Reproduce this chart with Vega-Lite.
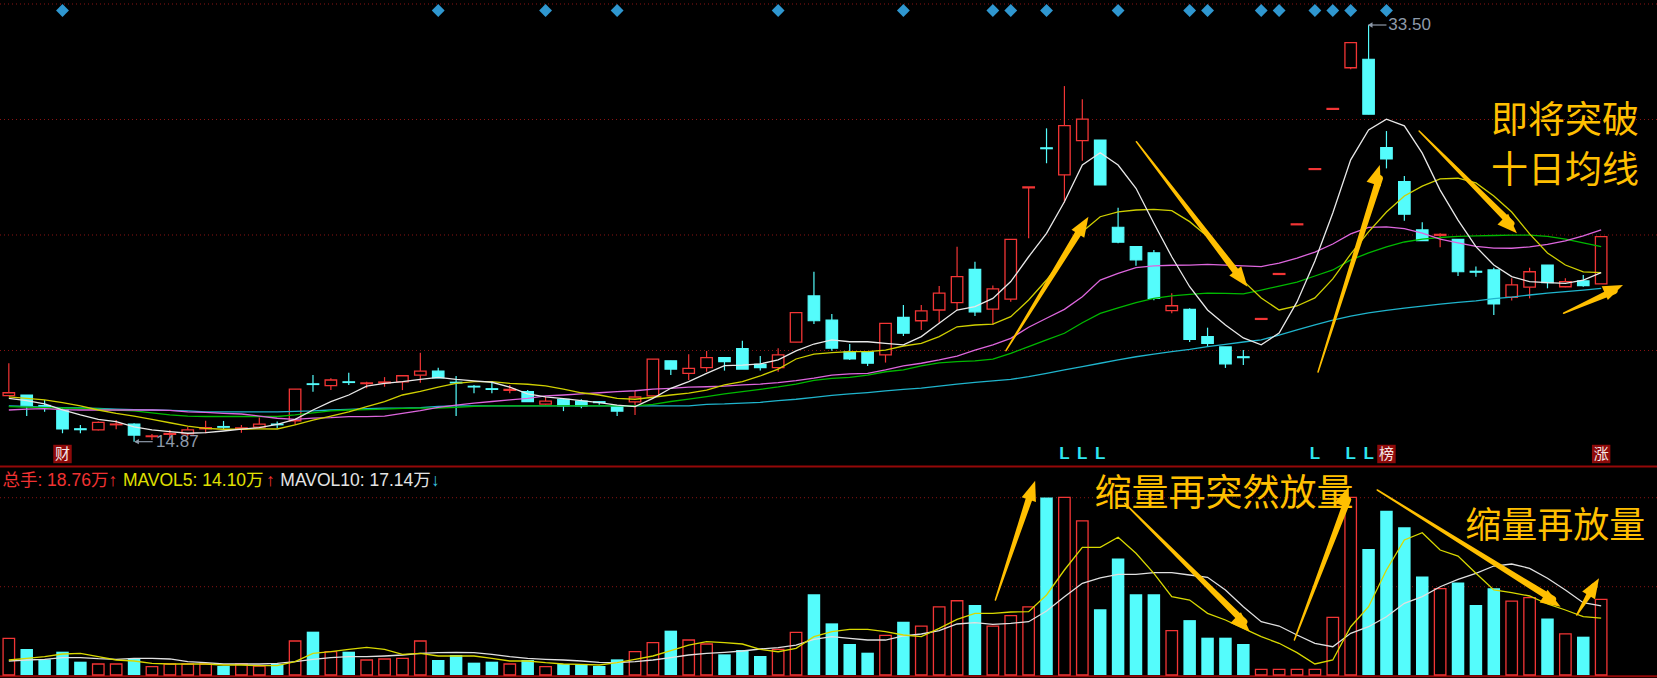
{
"$schema": "https://vega.github.io/schema/vega-lite/v6.json",
"width": 1657, "height": 678, "autosize": "none", "padding": 0,
"background": "#000000",
"config": {"view": {"stroke": null}, "axis": {"disable": true}, "legend": {"disable": true}},
"datasets": {"k": [
{"i":1,"o":16.93,"h":18.38,"l":16.92,"c":17.06,"v":9.09,"m5":16.81,"m10":16.88,"m20":16.29,"m30":16.44,"m60":16.47,"mv5":3.72,"mv10":3.47},
{"i":2,"o":16.96,"h":16.96,"l":16.02,"c":16.44,"v":6.44,"m5":16.71,"m10":16.81,"m20":16.33,"m30":16.42,"m60":16.45,"mv5":4.14,"mv10":3.72},
{"i":3,"o":16.49,"h":16.74,"l":16.21,"c":16.45,"v":3.88,"m5":16.56,"m10":16.74,"m20":16.35,"m30":16.40,"m60":16.42,"mv5":4.54,"mv10":3.89},
{"i":4,"o":16.29,"h":16.37,"l":15.25,"c":15.44,"v":5.78,"m5":16.29,"m10":16.62,"m20":16.31,"m30":16.38,"m60":16.40,"mv5":5.20,"mv10":4.29,"s":1,"tag":"财"},
{"i":5,"o":15.45,"h":15.62,"l":15.25,"c":15.41,"v":3.30,"m5":16.07,"m10":16.47,"m20":16.29,"m30":16.36,"m60":16.38,"mv5":5.38,"mv10":4.29},
{"i":6,"o":15.40,"h":15.78,"l":15.37,"c":15.74,"v":2.73,"m5":15.87,"m10":16.29,"m20":16.29,"m30":16.33,"m60":16.36,"mv5":4.54,"mv10":4.04},
{"i":7,"o":15.63,"h":15.84,"l":15.43,"c":15.66,"v":2.73,"m5":15.77,"m10":16.14,"m20":16.29,"m30":16.29,"m60":16.33,"mv5":3.72,"mv10":3.89},
{"i":8,"o":15.66,"h":15.70,"l":14.87,"c":15.17,"v":4.13,"m5":15.54,"m10":16.02,"m20":16.29,"m30":16.25,"m60":16.31,"mv5":3.47,"mv10":4.14},
{"i":9,"o":15.10,"h":15.22,"l":14.95,"c":15.13,"v":2.07,"m5":15.40,"m10":15.87,"m20":16.29,"m30":16.16,"m60":16.29,"mv5":2.90,"mv10":4.14},
{"i":10,"o":15.20,"h":15.40,"l":14.95,"c":15.24,"v":2.73,"m5":15.32,"m10":15.72,"m20":16.27,"m30":16.07,"m60":16.27,"mv5":2.73,"mv10":3.97},
{"i":11,"o":15.22,"h":15.53,"l":15.13,"c":15.40,"v":2.73,"m5":15.25,"m10":15.57,"m20":16.21,"m30":16.02,"m60":16.25,"mv5":2.73,"mv10":3.30},
{"i":12,"o":15.45,"h":15.81,"l":15.25,"c":15.50,"v":2.73,"m5":15.28,"m10":15.47,"m20":16.18,"m30":16.00,"m60":16.21,"mv5":2.73,"mv10":3.05},
{"i":13,"o":15.55,"h":15.80,"l":15.40,"c":15.52,"v":2.23,"m5":15.35,"m10":15.43,"m20":16.14,"m30":16.00,"m60":16.21,"mv5":2.48,"mv10":2.73},
{"i":14,"o":15.45,"h":15.62,"l":15.27,"c":15.49,"v":2.73,"m5":15.43,"m10":15.43,"m20":16.11,"m30":16.00,"m60":16.21,"mv5":2.48,"mv10":2.73},
{"i":15,"o":15.52,"h":15.95,"l":15.48,"c":15.66,"v":2.23,"m5":15.50,"m10":15.45,"m20":16.02,"m30":16.00,"m60":16.21,"mv5":2.30,"mv10":2.73},
{"i":16,"o":15.66,"h":15.77,"l":15.47,"c":15.63,"v":2.73,"m5":15.65,"m10":15.44,"m20":15.92,"m30":16.00,"m60":16.21,"mv5":2.30,"mv10":2.90},
{"i":17,"o":15.81,"h":17.22,"l":15.62,"c":17.22,"v":8.43,"m5":15.87,"m10":15.62,"m20":15.87,"m30":16.07,"m60":16.23,"mv5":3.30,"mv10":3.30},
{"i":18,"o":17.46,"h":17.85,"l":17.11,"c":17.43,"v":10.74,"m5":16.29,"m10":15.84,"m20":15.93,"m30":16.16,"m60":16.25,"mv5":5.38,"mv10":3.89},
{"i":19,"o":17.38,"h":17.71,"l":17.18,"c":17.63,"v":5.78,"m5":16.66,"m10":16.02,"m20":15.95,"m30":16.25,"m60":16.29,"mv5":5.77,"mv10":4.29},
{"i":20,"o":17.55,"h":17.96,"l":17.41,"c":17.52,"v":5.78,"m5":16.96,"m10":16.21,"m20":15.99,"m30":16.29,"m60":16.32,"mv5":6.37,"mv10":4.54},
{"i":21,"o":17.47,"h":17.55,"l":17.26,"c":17.50,"v":3.72,"m5":17.36,"m10":16.44,"m20":15.99,"m30":16.31,"m60":16.35,"mv5":6.86,"mv10":4.54},
{"i":22,"o":17.50,"h":17.76,"l":17.33,"c":17.54,"v":3.97,"m5":17.48,"m10":16.66,"m20":16.02,"m30":16.33,"m60":16.37,"mv5":6.37,"mv10":4.71},
{"i":23,"o":17.55,"h":17.85,"l":17.18,"c":17.82,"v":4.13,"m5":17.56,"m10":16.96,"m20":16.14,"m30":16.36,"m60":16.37,"mv5":5.13,"mv10":4.96},
{"i":24,"o":17.85,"h":18.85,"l":17.51,"c":18.03,"v":8.43,"m5":17.66,"m10":17.12,"m20":16.26,"m30":16.37,"m60":16.40,"mv5":5.38,"mv10":5.38},
{"i":25,"o":18.03,"h":18.18,"l":17.73,"c":17.73,"v":3.72,"m5":17.75,"m10":17.31,"m20":16.41,"m30":16.38,"m60":16.45,"mv5":4.71,"mv10":5.53,"s":1},
{"i":26,"o":17.53,"h":17.81,"l":16.02,"c":17.50,"v":4.96,"m5":17.66,"m10":17.48,"m20":16.51,"m30":16.41,"m60":16.47,"mv5":4.71,"mv10":5.63},
{"i":27,"o":17.35,"h":17.41,"l":17.04,"c":17.32,"v":3.06,"m5":17.59,"m10":17.56,"m20":16.60,"m30":16.45,"m60":16.47,"mv5":4.71,"mv10":5.53},
{"i":28,"o":17.24,"h":17.59,"l":17.04,"c":17.21,"v":3.30,"m5":17.53,"m10":17.56,"m20":16.67,"m30":16.47,"m60":16.47,"mv5":4.14,"mv10":5.13},
{"i":29,"o":17.17,"h":17.41,"l":17.04,"c":17.21,"v":2.73,"m5":17.31,"m10":17.48,"m20":16.74,"m30":16.47,"m60":16.47,"mv5":3.47,"mv10":4.54},
{"i":30,"o":17.11,"h":17.18,"l":16.66,"c":16.66,"v":3.72,"m5":17.01,"m10":17.44,"m20":16.81,"m30":16.47,"m60":16.47,"mv5":3.47,"mv10":4.14},
{"i":31,"o":16.55,"h":16.88,"l":16.53,"c":16.69,"v":2.07,"m5":16.88,"m10":17.37,"m20":16.92,"m30":16.47,"m60":16.47,"mv5":3.05,"mv10":3.89,"s":1},
{"i":32,"o":16.77,"h":16.80,"l":16.24,"c":16.47,"v":2.73,"m5":16.80,"m10":17.22,"m20":16.96,"m30":16.47,"m60":16.47,"mv5":2.73,"mv10":3.72},
{"i":33,"o":16.69,"h":16.77,"l":16.37,"c":16.47,"v":2.73,"m5":16.71,"m10":17.06,"m20":17.01,"m30":16.47,"m60":16.47,"mv5":2.65,"mv10":3.47},
{"i":34,"o":16.66,"h":16.69,"l":16.52,"c":16.62,"v":2.23,"m5":16.62,"m10":16.96,"m20":17.06,"m30":16.47,"m60":16.47,"mv5":2.48,"mv10":3.15},
{"i":35,"o":16.47,"h":16.47,"l":16.02,"c":16.24,"v":3.88,"m5":16.51,"m10":16.81,"m20":17.11,"m30":16.47,"m60":16.47,"mv5":3.05,"mv10":3.05,"s":1},
{"i":36,"o":16.65,"h":17.14,"l":16.07,"c":16.87,"v":5.78,"m5":16.44,"m10":16.77,"m20":17.15,"m30":16.47,"m60":16.47,"mv5":3.89,"mv10":3.30},
{"i":37,"o":16.92,"h":18.56,"l":16.92,"c":18.56,"v":8.00,"m5":16.81,"m10":16.86,"m20":17.22,"m30":16.54,"m60":16.47,"mv5":4.71,"mv10":3.72},
{"i":38,"o":18.49,"h":18.49,"l":17.85,"c":18.12,"v":10.99,"m5":17.26,"m10":16.96,"m20":17.26,"m30":16.67,"m60":16.47,"mv5":6.02,"mv10":4.29},
{"i":39,"o":17.93,"h":18.78,"l":17.63,"c":18.15,"v":8.67,"m5":17.56,"m10":17.04,"m20":17.31,"m30":16.78,"m60":16.47,"mv5":7.43,"mv10":4.96},
{"i":40,"o":18.18,"h":18.93,"l":18.00,"c":18.63,"v":7.68,"m5":17.93,"m10":17.18,"m20":17.33,"m30":16.89,"m60":16.54,"mv5":8.25,"mv10":5.38},
{"i":41,"o":18.63,"h":18.63,"l":18.05,"c":18.45,"v":5.12,"m5":18.27,"m10":17.41,"m20":17.36,"m30":17.01,"m60":16.56,"mv5":8.00,"mv10":5.63},
{"i":42,"o":19.03,"h":19.39,"l":18.12,"c":18.12,"v":6.20,"m5":18.30,"m10":17.56,"m20":17.41,"m30":17.11,"m60":16.60,"mv5":7.68,"mv10":5.95},
{"i":43,"o":18.33,"h":18.70,"l":18.05,"c":18.18,"v":4.71,"m5":18.35,"m10":17.81,"m20":17.45,"m30":17.21,"m60":16.63,"mv5":6.37,"mv10":6.44},
{"i":44,"o":18.18,"h":19.05,"l":18.00,"c":18.75,"v":6.36,"m5":18.53,"m10":18.12,"m20":17.51,"m30":17.32,"m60":16.71,"mv5":5.77,"mv10":6.77,"s":1},
{"i":45,"o":19.32,"h":20.64,"l":19.32,"c":20.64,"v":10.57,"m5":18.93,"m10":18.57,"m20":17.60,"m30":17.45,"m60":16.77,"mv5":6.62,"mv10":7.43},
{"i":46,"o":21.39,"h":22.47,"l":20.13,"c":20.28,"v":20.0,"m5":19.24,"m10":18.79,"m20":17.71,"m30":17.61,"m60":16.85,"mv5":9.49,"mv10":8.85},
{"i":47,"o":20.31,"h":20.58,"l":18.94,"c":19.05,"v":12.8,"m5":19.42,"m10":18.85,"m20":17.85,"m30":17.70,"m60":16.94,"mv5":10.73,"mv10":9.49},
{"i":48,"o":18.89,"h":19.24,"l":18.53,"c":18.57,"v":7.68,"m5":19.34,"m10":18.90,"m20":17.90,"m30":17.75,"m60":17.01,"mv5":11.33,"mv10":9.10},
{"i":49,"o":18.89,"h":18.89,"l":18.26,"c":18.38,"v":5.53,"m5":19.34,"m10":18.90,"m20":17.93,"m30":17.85,"m60":17.07,"mv5":11.33,"mv10":8.67},
{"i":50,"o":18.75,"h":20.16,"l":18.41,"c":20.16,"v":9.83,"m5":19.27,"m10":18.97,"m20":18.08,"m30":18.00,"m60":17.14,"mv5":10.73,"mv10":8.67},
{"i":51,"o":20.43,"h":20.98,"l":19.60,"c":19.72,"v":13.2,"m5":19.20,"m10":19.15,"m20":18.26,"m30":18.08,"m60":17.21,"mv5":9.91,"mv10":9.67,"s":1},
{"i":52,"o":20.28,"h":20.98,"l":19.87,"c":20.72,"v":12.1,"m5":19.57,"m10":19.27,"m20":18.38,"m30":18.26,"m60":17.27,"mv5":9.49,"mv10":10.16},
{"i":53,"o":20.76,"h":21.83,"l":20.19,"c":21.51,"v":16.9,"m5":20.17,"m10":19.57,"m20":18.53,"m30":18.40,"m60":17.36,"mv5":11.57,"mv10":10.98},
{"i":54,"o":21.09,"h":23.59,"l":20.76,"c":22.25,"v":18.4,"m5":20.76,"m10":20.01,"m20":18.70,"m30":18.45,"m60":17.45,"mv5":13.80,"mv10":12.64},
{"i":55,"o":22.58,"h":22.92,"l":20.49,"c":20.68,"v":17.35,"m5":20.91,"m10":20.09,"m20":18.97,"m30":18.49,"m60":17.52,"mv5":15.29,"mv10":12.96},
{"i":56,"o":20.80,"h":21.85,"l":20.09,"c":21.70,"v":12.1,"m5":21.28,"m10":20.13,"m20":19.20,"m30":18.56,"m60":17.59,"mv5":15.29,"mv10":12.57,"s":1},
{"i":57,"o":21.25,"h":23.92,"l":21.13,"c":23.92,"v":14.7,"m5":22.03,"m10":20.46,"m20":19.49,"m30":18.82,"m60":17.66,"mv5":15.61,"mv10":12.81,"s":1},
{"i":58,"o":26.22,"h":26.26,"l":23.97,"c":26.26,"v":16.9,"m5":23.14,"m10":21.21,"m20":19.99,"m30":19.12,"m60":17.78,"mv5":15.69,"mv10":13.21},
{"i":59,"o":28.01,"h":28.88,"l":27.32,"c":27.97,"v":44.0,"m5":24.19,"m10":22.10,"m20":20.39,"m30":19.42,"m60":17.93,"mv5":19.83,"mv10":15.86,"s":1},
{"i":60,"o":26.80,"h":30.77,"l":25.56,"c":29.00,"v":44.0,"m5":25.60,"m10":23.14,"m20":20.79,"m30":19.72,"m60":18.08,"mv5":26.02,"mv10":19.41,"L":1},
{"i":61,"o":28.33,"h":30.18,"l":27.43,"c":29.29,"v":38.2,"m5":27.24,"m10":24.26,"m20":21.35,"m30":20.19,"m60":18.23,"mv5":31.65,"mv10":22.73,"L":1},
{"i":62,"o":28.36,"h":28.36,"l":26.35,"c":26.35,"v":16.3,"m5":27.79,"m10":24.93,"m20":22.10,"m30":20.61,"m60":18.38,"mv5":31.65,"mv10":24.09,"L":1},
{"i":63,"o":24.46,"h":25.33,"l":23.74,"c":23.79,"v":28.9,"m5":27.24,"m10":25.15,"m20":22.40,"m30":20.86,"m60":18.53,"mv5":34.13,"mv10":24.96,"s":1},
{"i":64,"o":23.59,"h":23.59,"l":22.74,"c":23.00,"v":20.0,"m5":26.20,"m10":25.23,"m20":22.65,"m30":21.09,"m60":18.67,"mv5":30.16,"mv10":24.96},
{"i":65,"o":23.32,"h":23.44,"l":21.20,"c":21.28,"v":20.0,"m5":24.64,"m10":25.26,"m20":22.73,"m30":21.28,"m60":18.79,"mv5":25.20,"mv10":25.35},
{"i":66,"o":20.73,"h":21.51,"l":20.61,"c":20.95,"v":11.0,"m5":23.14,"m10":25.20,"m20":22.76,"m30":21.39,"m60":18.90,"mv5":19.41,"mv10":25.35},
{"i":67,"o":20.79,"h":20.84,"l":19.33,"c":19.45,"v":13.6,"m5":21.80,"m10":24.71,"m20":22.77,"m30":21.46,"m60":19.00,"mv5":18.59,"mv10":24.78,"s":1},
{"i":68,"o":19.57,"h":19.97,"l":19.12,"c":19.27,"v":9.25,"m5":20.76,"m10":24.04,"m20":22.80,"m30":21.51,"m60":19.12,"mv5":15.29,"mv10":24.21,"s":1},
{"i":69,"o":19.11,"h":19.11,"l":18.17,"c":18.35,"v":9.25,"m5":20.09,"m10":23.08,"m20":22.77,"m30":21.50,"m60":19.22,"mv5":13.63,"mv10":21.07},
{"i":70,"o":18.67,"h":18.97,"l":18.30,"c":18.63,"v":7.68,"m5":19.51,"m10":22.06,"m20":22.73,"m30":21.48,"m60":19.33,"mv5":11.57,"mv10":16.93},
{"i":71,"o":20.34,"h":20.38,"l":20.34,"c":20.38,"v":1.40,"m5":19.20,"m10":21.30,"m20":22.70,"m30":21.65,"m60":19.42,"mv5":9.49,"mv10":13.21,"s":1},
{"i":72,"o":22.35,"h":22.39,"l":22.35,"c":22.39,"v":1.40,"m5":19.73,"m10":20.76,"m20":22.86,"m30":21.83,"m60":19.64,"mv5":7.86,"mv10":12.14,"s":1},
{"i":73,"o":24.57,"h":24.61,"l":24.57,"c":24.61,"v":1.40,"m5":21.12,"m10":20.94,"m20":23.08,"m30":22.01,"m60":19.87,"mv5":5.53,"mv10":9.91},
{"i":74,"o":27.04,"h":27.08,"l":27.04,"c":27.08,"v":1.40,"m5":22.95,"m10":21.30,"m20":23.35,"m30":22.28,"m60":20.09,"mv5":2.73,"mv10":7.86,"s":1,"L":1},
{"i":75,"o":29.73,"h":29.77,"l":29.73,"c":29.77,"v":14.3,"m5":25.10,"m10":22.15,"m20":23.71,"m30":22.55,"m60":20.31,"mv5":3.72,"mv10":7.01,"s":1},
{"i":76,"o":31.59,"h":32.71,"l":31.52,"c":32.71,"v":44.0,"m5":27.47,"m10":23.26,"m20":24.16,"m30":23.00,"m60":20.49,"mv5":11.97,"mv10":10.33,"s":1,"L":1},
{"i":77,"o":31.97,"h":33.50,"l":29.51,"c":29.51,"v":31.2,"m5":28.81,"m10":24.25,"m20":24.45,"m30":23.31,"m60":20.63,"mv5":16.93,"mv10":11.97,"L":1},
{"i":78,"o":28.02,"h":28.76,"l":27.09,"c":27.51,"v":40.7,"m5":29.29,"m10":25.14,"m20":24.48,"m30":23.58,"m60":20.74,"mv5":26.02,"mv10":14.45,"s":1,"tag":"榜"},
{"i":79,"o":26.50,"h":26.75,"l":24.75,"c":25.04,"v":36.6,"m5":28.99,"m10":25.86,"m20":24.40,"m30":23.80,"m60":20.84,"mv5":33.46,"mv10":17.77},
{"i":80,"o":24.34,"h":24.68,"l":23.86,"c":23.86,"v":24.4,"m5":27.77,"m10":26.30,"m20":24.20,"m30":23.93,"m60":20.93,"mv5":35.27,"mv10":19.41},
{"i":81,"o":24.10,"h":24.19,"l":23.56,"c":24.14,"v":21.4,"m5":26.12,"m10":26.62,"m20":23.93,"m30":24.00,"m60":21.02,"mv5":30.98,"mv10":21.88},
{"i":82,"o":23.92,"h":23.92,"l":22.28,"c":22.47,"v":22.9,"m5":24.78,"m10":26.65,"m20":23.76,"m30":24.05,"m60":21.10,"mv5":29.49,"mv10":23.72},
{"i":83,"o":22.49,"h":22.70,"l":22.25,"c":22.45,"v":17.35,"m5":23.59,"m10":26.44,"m20":23.60,"m30":24.07,"m60":21.17,"mv5":25.20,"mv10":25.20},
{"i":84,"o":22.55,"h":22.65,"l":20.54,"c":21.03,"v":21.5,"m5":22.77,"m10":25.86,"m20":23.53,"m30":24.09,"m60":21.27,"mv5":21.07,"mv10":27.01},
{"i":85,"o":21.33,"h":22.18,"l":21.18,"c":21.88,"v":18.3,"m5":22.25,"m10":25.14,"m20":23.52,"m30":24.11,"m60":21.34,"mv5":20.40,"mv10":27.51},
{"i":86,"o":21.78,"h":22.65,"l":21.28,"c":22.47,"v":19.2,"m5":22.03,"m10":24.16,"m20":23.58,"m30":24.11,"m60":21.43,"mv5":19.58,"mv10":26.44},
{"i":87,"o":22.77,"h":22.77,"l":21.73,"c":21.98,"v":14.0,"m5":21.98,"m10":23.31,"m20":23.69,"m30":24.05,"m60":21.51,"mv5":17.60,"mv10":23.97},
{"i":88,"o":21.80,"h":22.18,"l":21.78,"c":22.03,"v":10.2,"m5":21.95,"m10":22.77,"m20":23.85,"m30":23.93,"m60":21.58,"mv5":16.11,"mv10":21.07},
{"i":89,"o":22.06,"h":22.33,"l":21.80,"c":21.85,"v":9.5,"m5":22.10,"m10":22.46,"m20":24.07,"m30":23.76,"m60":21.65,"mv5":14.45,"mv10":17.92},
{"i":90,"o":21.93,"h":24.04,"l":21.93,"c":24.04,"v":18.76,"m5":22.43,"m10":22.43,"m20":24.34,"m30":23.59,"m60":21.73,"mv5":14.10,"mv10":17.14,"tag":"涨"}
]},
"data": {"name": "k"},
"resolve": {"scale": {"y": "independent"}},
"layer": [
{
"layer": [
{"data": {"values": [{"g":34.439},{"g":29.276},{"g":24.113},{"g":18.95}]},
 "mark": {"type": "rule", "color": "#8A1414", "strokeWidth": 1, "strokeDash": [1, 3]},
 "encoding": {"y": {"field": "g", "type": "quantitative", "scale": {"domain": [4.309, 34.618], "nice": false, "zero": false}, "axis": null}}},
{"data": {"values": [{}]},
 "mark": {"type": "rule", "color": "#940808", "strokeWidth": 2},
 "encoding": {"y": {"datum": 13.76, "type": "quantitative", "scale": {"domain": [4.309, 34.618], "nice": false, "zero": false}, "axis": null}}},
{"transform": [{"filter": "datum.c >= datum.o"}],
 "mark": {"type": "rule", "color": "#F23535", "strokeWidth": 1.2},
 "encoding": {"x": {"field": "i", "type": "quantitative", "scale": {"domain": [0.7861, 92.8417], "nice": false, "zero": false}, "axis": null},
  "y": {"field": "l", "type": "quantitative", "scale": {"domain": [4.309, 34.618], "nice": false, "zero": false}, "axis": null},
  "y2": {"field": "h"}}},
{"transform": [{"filter": "datum.c < datum.o"}],
 "mark": {"type": "rule", "color": "#54FCFC", "strokeWidth": 1.2},
 "encoding": {"x": {"field": "i", "type": "quantitative", "scale": {"domain": [0.7861, 92.8417], "nice": false, "zero": false}, "axis": null},
  "y": {"field": "l", "type": "quantitative", "scale": {"domain": [4.309, 34.618], "nice": false, "zero": false}, "axis": null},
  "y2": {"field": "h"}}},
{"transform": [{"filter": "datum.c >= datum.o"}],
 "mark": {"type": "bar", "width": 11.5, "fill": "#000000", "stroke": "#F23535", "strokeWidth": 1.3},
 "encoding": {"x": {"field": "i", "type": "quantitative", "scale": {"domain": [0.7861, 92.8417], "nice": false, "zero": false}, "axis": null},
  "y": {"field": "o", "type": "quantitative", "scale": {"domain": [4.309, 34.618], "nice": false, "zero": false}, "axis": null},
  "y2": {"field": "c"}}},
{"transform": [{"filter": "datum.c < datum.o"}],
 "mark": {"type": "bar", "width": 11.5, "fill": "#54FCFC", "stroke": "#54FCFC", "strokeWidth": 1.2},
 "encoding": {"x": {"field": "i", "type": "quantitative", "scale": {"domain": [0.7861, 92.8417], "nice": false, "zero": false}, "axis": null},
  "y": {"field": "o", "type": "quantitative", "scale": {"domain": [4.309, 34.618], "nice": false, "zero": false}, "axis": null},
  "y2": {"field": "c"}}},
{"mark": {"type": "line", "color": "#1FB4CC", "strokeWidth": 1.3},
 "encoding": {"x": {"field": "i", "type": "quantitative", "scale": {"domain": [0.7861, 92.8417], "nice": false, "zero": false}, "axis": null},
  "y": {"field": "m60", "type": "quantitative", "scale": {"domain": [4.309, 34.618], "nice": false, "zero": false}, "axis": null}}},
{"mark": {"type": "line", "color": "#00B800", "strokeWidth": 1.3},
 "encoding": {"x": {"field": "i", "type": "quantitative", "scale": {"domain": [0.7861, 92.8417], "nice": false, "zero": false}, "axis": null},
  "y": {"field": "m30", "type": "quantitative", "scale": {"domain": [4.309, 34.618], "nice": false, "zero": false}, "axis": null}}},
{"mark": {"type": "line", "color": "#DD66DD", "strokeWidth": 1.3},
 "encoding": {"x": {"field": "i", "type": "quantitative", "scale": {"domain": [0.7861, 92.8417], "nice": false, "zero": false}, "axis": null},
  "y": {"field": "m20", "type": "quantitative", "scale": {"domain": [4.309, 34.618], "nice": false, "zero": false}, "axis": null}}},
{"mark": {"type": "line", "color": "#CFCF00", "strokeWidth": 1.3},
 "encoding": {"x": {"field": "i", "type": "quantitative", "scale": {"domain": [0.7861, 92.8417], "nice": false, "zero": false}, "axis": null},
  "y": {"field": "m10", "type": "quantitative", "scale": {"domain": [4.309, 34.618], "nice": false, "zero": false}, "axis": null}}},
{"mark": {"type": "line", "color": "#E8E8E8", "strokeWidth": 1.3},
 "encoding": {"x": {"field": "i", "type": "quantitative", "scale": {"domain": [0.7861, 92.8417], "nice": false, "zero": false}, "axis": null},
  "y": {"field": "m5", "type": "quantitative", "scale": {"domain": [4.309, 34.618], "nice": false, "zero": false}, "axis": null}}},
{"transform": [{"filter": "datum.s == 1"}],
 "mark": {"type": "point", "shape": "diamond", "size": 165, "filled": true, "color": "#2F97D0", "opacity": 1},
 "encoding": {"x": {"field": "i", "type": "quantitative", "scale": {"domain": [0.7861, 92.8417], "nice": false, "zero": false}, "axis": null},
  "y": {"datum": 34.15, "type": "quantitative", "scale": {"domain": [4.309, 34.618], "nice": false, "zero": false}, "axis": null}}},
{"transform": [{"filter": "datum.L == 1"}],
 "mark": {"type": "text", "text": "L", "fontSize": 17, "fontWeight": "bold", "font": "Liberation Sans", "color": "#2EE6F0", "align": "center", "baseline": "middle"},
 "encoding": {"x": {"field": "i", "type": "quantitative", "scale": {"domain": [0.7861, 92.8417], "nice": false, "zero": false}, "axis": null},
  "y": {"datum": 14.323, "type": "quantitative", "scale": {"domain": [4.309, 34.618], "nice": false, "zero": false}, "axis": null}}},
{"transform": [{"filter": "datum.tag"}],
 "mark": {"type": "point", "shape": "square", "size": 340, "filled": true, "color": "#8E0A0A", "opacity": 1},
 "encoding": {"x": {"field": "i", "type": "quantitative", "scale": {"domain": [0.7861, 92.8417], "nice": false, "zero": false}, "axis": null},
  "y": {"datum": 14.323, "type": "quantitative", "scale": {"domain": [4.309, 34.618], "nice": false, "zero": false}, "axis": null}}},
{"transform": [{"filter": "datum.tag"}],
 "mark": {"type": "text", "fontSize": 15, "font": "Noto Sans CJK SC", "color": "#F4E6E6", "align": "center", "baseline": "middle"},
 "encoding": {"x": {"field": "i", "type": "quantitative", "scale": {"domain": [0.7861, 92.8417], "nice": false, "zero": false}, "axis": null},
  "y": {"datum": 14.323, "type": "quantitative", "scale": {"domain": [4.309, 34.618], "nice": false, "zero": false}, "axis": null},
  "text": {"field": "tag"}}},
{"data": {"values": [{}]},
 "mark": {"type": "rule", "color": "#8E9AAA", "strokeWidth": 1.2},
 "encoding": {"x": {"datum": 8.06, "type": "quantitative", "scale": {"domain": [0.7861, 92.8417], "nice": false, "zero": false}, "axis": null},
  "x2": {"datum": 9.04},
  "y": {"datum": 14.873, "type": "quantitative", "scale": {"domain": [4.309, 34.618], "nice": false, "zero": false}, "axis": null}}},
{"data": {"values": [{}]},
 "mark": {"type": "point", "shape": "triangle-left", "size": 28, "filled": true, "color": "#8E9AAA", "opacity": 1},
 "encoding": {"x": {"datum": 8.14, "type": "quantitative", "scale": {"domain": [0.7861, 92.8417], "nice": false, "zero": false}, "axis": null},
  "y": {"datum": 14.873, "type": "quantitative", "scale": {"domain": [4.309, 34.618], "nice": false, "zero": false}, "axis": null}}},
{"data": {"values": [{}]},
 "mark": {"type": "text", "text": "14.87", "fontSize": 17, "font": "Liberation Sans", "color": "#8E9AAA", "align": "left", "baseline": "middle"},
 "encoding": {"x": {"datum": 9.231, "type": "quantitative", "scale": {"domain": [0.7861, 92.8417], "nice": false, "zero": false}, "axis": null},
  "y": {"datum": 14.873, "type": "quantitative", "scale": {"domain": [4.309, 34.618], "nice": false, "zero": false}, "axis": null}}},
{"data": {"values": [{}]},
 "mark": {"type": "rule", "color": "#8E9AAA", "strokeWidth": 1.2},
 "encoding": {"x": {"datum": 77.0, "type": "quantitative", "scale": {"domain": [0.7861, 92.8417], "nice": false, "zero": false}, "axis": null},
  "x2": {"datum": 78.0},
  "y": {"datum": 33.5, "type": "quantitative", "scale": {"domain": [4.309, 34.618], "nice": false, "zero": false}, "axis": null}}},
{"data": {"values": [{}]},
 "mark": {"type": "point", "shape": "triangle-left", "size": 28, "filled": true, "color": "#8E9AAA", "opacity": 1},
 "encoding": {"x": {"datum": 77.09, "type": "quantitative", "scale": {"domain": [0.7861, 92.8417], "nice": false, "zero": false}, "axis": null},
  "y": {"datum": 33.5, "type": "quantitative", "scale": {"domain": [4.309, 34.618], "nice": false, "zero": false}, "axis": null}}},
{"data": {"values": [{}]},
 "mark": {"type": "text", "text": "33.50", "fontSize": 17, "font": "Liberation Sans", "color": "#8E9AAA", "align": "left", "baseline": "middle"},
 "encoding": {"x": {"datum": 78.103, "type": "quantitative", "scale": {"domain": [0.7861, 92.8417], "nice": false, "zero": false}, "axis": null},
  "y": {"datum": 33.5, "type": "quantitative", "scale": {"domain": [4.309, 34.618], "nice": false, "zero": false}, "axis": null}}},
{"data": {"values": [{}]},
 "mark": {"type": "text", "text": "即将突破", "fontSize": 37, "font": "Noto Sans CJK SC", "color": "#FFBF00", "align": "left", "baseline": "middle"},
 "encoding": {"x": {"datum": 83.842, "type": "quantitative", "scale": {"domain": [0.7861, 92.8417], "nice": false, "zero": false}, "axis": null},
  "y": {"datum": 29.142, "type": "quantitative", "scale": {"domain": [4.309, 34.618], "nice": false, "zero": false}, "axis": null}}},
{"data": {"values": [{}]},
 "mark": {"type": "text", "text": "十日均线", "fontSize": 37, "font": "Noto Sans CJK SC", "color": "#FFBF00", "align": "left", "baseline": "middle"},
 "encoding": {"x": {"datum": 83.842, "type": "quantitative", "scale": {"domain": [0.7861, 92.8417], "nice": false, "zero": false}, "axis": null},
  "y": {"datum": 26.951, "type": "quantitative", "scale": {"domain": [4.309, 34.618], "nice": false, "zero": false}, "axis": null}}},
{"data": {"values": [
  {"n":1,"k":0,"i":56.731,"p":18.941},{"n":1,"k":1,"i":60.932,"p":24.399},
  {"n":2,"k":0,"i":64.025,"p":28.284},{"n":2,"k":1,"i":69.756,"p":22.297},
  {"n":3,"k":0,"i":74.175,"p":17.988},{"n":3,"k":1,"i":77.606,"p":26.646},
  {"n":4,"k":0,"i":79.825,"p":28.762},{"n":4,"k":1,"i":84.958,"p":24.631},
  {"n":5,"k":0,"i":87.897,"p":20.613},{"n":5,"k":1,"i":90.725,"p":21.623}]},
 "mark": {"type": "trail", "color": "#FFBF00"},
 "encoding": {"x": {"field": "i", "type": "quantitative", "scale": {"domain": [0.7861, 92.8417], "nice": false, "zero": false}, "axis": null},
  "y": {"field": "p", "type": "quantitative", "scale": {"domain": [4.309, 34.618], "nice": false, "zero": false}, "axis": null},
  "detail": {"field": "n", "type": "nominal"},
  "order": {"field": "k", "type": "quantitative"},
  "size": {"field": "k", "type": "quantitative", "scale": {"domain": [0, 1], "range": [1.5, 7]}, "legend": null}}},
{"data": {"values": [
  {"n":1,"i":61.342,"p":24.931},{"n":2,"i":70.231,"p":21.802},{"n":3,"i":77.628,"p":27.242},
  {"n":4,"i":85.294,"p":24.189},{"n":5,"i":91.222,"p":21.878}]},
 "mark": {"type": "point", "shape": "M0,0L-0.75,2L0.75,2Z", "size": 400, "filled": true, "color": "#FFBF00", "opacity": 1},
 "encoding": {"x": {"field": "i", "type": "quantitative", "scale": {"domain": [0.7861, 92.8417], "nice": false, "zero": false}, "axis": null},
  "y": {"field": "p", "type": "quantitative", "scale": {"domain": [4.309, 34.618], "nice": false, "zero": false}, "axis": null},
  "angle": {"field": "n", "type": "quantitative", "scale": {"domain": [1,2,3,4,5,6,7,8,9,10], "range": [31.8,142.4,17.7,135,66,18.5,134.7,20.9,121.8,31.4]}, "legend": null}}}
]
},
{
"layer": [
{"data": {"values": [{"g":43.94},{"g":21.88}]},
 "mark": {"type": "rule", "color": "#8A1414", "strokeWidth": 1, "strokeDash": [1, 3]},
 "encoding": {"y": {"field": "g", "type": "quantitative", "scale": {"domain": [-0.7435, 167.29], "nice": false, "zero": false}, "axis": null}}},
{"data": {"values": [{}]},
 "mark": {"type": "rule", "color": "#940808", "strokeWidth": 2},
 "encoding": {"y": {"datum": -0.3, "type": "quantitative", "scale": {"domain": [-0.7435, 167.29], "nice": false, "zero": false}, "axis": null}}},
{"transform": [{"filter": "datum.c >= datum.o"}],
 "mark": {"type": "bar", "width": 11.5, "fill": "#000000", "stroke": "#F23535", "strokeWidth": 1.3},
 "encoding": {"x": {"field": "i", "type": "quantitative", "scale": {"domain": [0.7861, 92.8417], "nice": false, "zero": false}, "axis": null},
  "y": {"field": "v", "type": "quantitative", "scale": {"domain": [-0.7435, 167.29], "nice": false, "zero": false}, "axis": null},
  "y2": {"datum": 0}}},
{"transform": [{"filter": "datum.c < datum.o"}],
 "mark": {"type": "bar", "width": 12.5, "fill": "#54FCFC"},
 "encoding": {"x": {"field": "i", "type": "quantitative", "scale": {"domain": [0.7861, 92.8417], "nice": false, "zero": false}, "axis": null},
  "y": {"field": "v", "type": "quantitative", "scale": {"domain": [-0.7435, 167.29], "nice": false, "zero": false}, "axis": null},
  "y2": {"datum": 0}}},
{"mark": {"type": "line", "color": "#E0E0E0", "strokeWidth": 1.3},
 "encoding": {"x": {"field": "i", "type": "quantitative", "scale": {"domain": [0.7861, 92.8417], "nice": false, "zero": false}, "axis": null},
  "y": {"field": "mv10", "type": "quantitative", "scale": {"domain": [-0.7435, 167.29], "nice": false, "zero": false}, "axis": null}}},
{"mark": {"type": "line", "color": "#D8D800", "strokeWidth": 1.3},
 "encoding": {"x": {"field": "i", "type": "quantitative", "scale": {"domain": [0.7861, 92.8417], "nice": false, "zero": false}, "axis": null},
  "y": {"field": "mv5", "type": "quantitative", "scale": {"domain": [-0.7435, 167.29], "nice": false, "zero": false}, "axis": null}}},
{"data": {"values": [{}]},
 "mark": {"type": "text", "text": "总手: 18.76万↑", "fontSize": 17.5, "font": "Liberation Sans, Noto Sans CJK SC", "color": "#F03232", "align": "left", "baseline": "middle"},
 "encoding": {"x": {"datum": 0.64, "type": "quantitative", "scale": {"domain": [0.7861, 92.8417], "nice": false, "zero": false}, "axis": null},
  "y": {"datum": 47.96, "type": "quantitative", "scale": {"domain": [-0.7435, 167.29], "nice": false, "zero": false}, "axis": null}}},
{"data": {"values": [{}]},
 "mark": {"type": "text", "text": "MAVOL5: 14.10万", "fontSize": 17.5, "font": "Liberation Sans, Noto Sans CJK SC", "color": "#E0E000", "align": "left", "baseline": "middle"},
 "encoding": {"x": {"datum": 7.375, "type": "quantitative", "scale": {"domain": [0.7861, 92.8417], "nice": false, "zero": false}, "axis": null},
  "y": {"datum": 47.96, "type": "quantitative", "scale": {"domain": [-0.7435, 167.29], "nice": false, "zero": false}, "axis": null}}},
{"data": {"values": [{}]},
 "mark": {"type": "text", "text": "↑", "fontSize": 17.5, "font": "Liberation Sans, Noto Sans CJK SC", "color": "#F03232", "align": "left", "baseline": "middle"},
 "encoding": {"x": {"datum": 15.369, "type": "quantitative", "scale": {"domain": [0.7861, 92.8417], "nice": false, "zero": false}, "axis": null},
  "y": {"datum": 47.96, "type": "quantitative", "scale": {"domain": [-0.7435, 167.29], "nice": false, "zero": false}, "axis": null}}},
{"data": {"values": [{}]},
 "mark": {"type": "text", "text": "MAVOL10: 17.14万", "fontSize": 17.5, "font": "Liberation Sans, Noto Sans CJK SC", "color": "#E4E4E4", "align": "left", "baseline": "middle"},
 "encoding": {"x": {"datum": 16.175, "type": "quantitative", "scale": {"domain": [0.7861, 92.8417], "nice": false, "zero": false}, "axis": null},
  "y": {"datum": 47.96, "type": "quantitative", "scale": {"domain": [-0.7435, 167.29], "nice": false, "zero": false}, "axis": null}}},
{"data": {"values": [{}]},
 "mark": {"type": "text", "text": "↓", "fontSize": 17.5, "font": "Liberation Sans, Noto Sans CJK SC", "color": "#3CC6E6", "align": "left", "baseline": "middle"},
 "encoding": {"x": {"datum": 24.597, "type": "quantitative", "scale": {"domain": [0.7861, 92.8417], "nice": false, "zero": false}, "axis": null},
  "y": {"datum": 47.96, "type": "quantitative", "scale": {"domain": [-0.7435, 167.29], "nice": false, "zero": false}, "axis": null}}},
{"data": {"values": [{}]},
 "mark": {"type": "text", "text": "缩量再突然放量", "fontSize": 37, "font": "Noto Sans CJK SC", "color": "#FFBF00", "align": "left", "baseline": "middle"},
 "encoding": {"x": {"datum": 61.675, "type": "quantitative", "scale": {"domain": [0.7861, 92.8417], "nice": false, "zero": false}, "axis": null},
  "y": {"datum": 44.73, "type": "quantitative", "scale": {"domain": [-0.7435, 167.29], "nice": false, "zero": false}, "axis": null}}},
{"data": {"values": [{}]},
 "mark": {"type": "text", "text": "缩量再放量", "fontSize": 36, "font": "Noto Sans CJK SC", "color": "#FFBF00", "align": "left", "baseline": "middle"},
 "encoding": {"x": {"datum": 82.397, "type": "quantitative", "scale": {"domain": [0.7861, 92.8417], "nice": false, "zero": false}, "axis": null},
  "y": {"datum": 36.68, "type": "quantitative", "scale": {"domain": [-0.7435, 167.29], "nice": false, "zero": false}, "axis": null}}},
{"data": {"values": [
  {"n":6,"k":0,"i":56.142,"p":18.587},{"n":6,"k":1,"i":58.117,"p":44.862},
  {"n":7,"k":0,"i":63.375,"p":42.553},{"n":7,"k":1,"i":70.028,"p":13.172},
  {"n":8,"k":0,"i":72.853,"p":8.674},{"n":8,"k":1,"i":75.831,"p":43.425},
  {"n":9,"k":0,"i":77.486,"p":45.849},{"n":9,"k":1,"i":87.286,"p":18.753},
  {"n":10,"k":0,"i":88.636,"p":14.870},{"n":10,"k":1,"i":89.591,"p":21.849}]},
 "mark": {"type": "trail", "color": "#FFBF00"},
 "encoding": {"x": {"field": "i", "type": "quantitative", "scale": {"domain": [0.7861, 92.8417], "nice": false, "zero": false}, "axis": null},
  "y": {"field": "p", "type": "quantitative", "scale": {"domain": [-0.7435, 167.29], "nice": false, "zero": false}, "axis": null},
  "detail": {"field": "n", "type": "nominal"},
  "order": {"field": "k", "type": "quantitative"},
  "size": {"field": "k", "type": "quantitative", "scale": {"domain": [0, 1], "range": [1.5, 7]}, "legend": null}}},
{"data": {"values": [
  {"n":6,"i":58.364,"p":48.154},{"n":7,"i":70.367,"p":10.731},{"n":8,"i":75.894,"p":46.667},
  {"n":9,"i":87.733,"p":16.927},{"n":10,"i":89.881,"p":23.965}]},
 "mark": {"type": "point", "shape": "M0,0L-0.75,2L0.75,2Z", "size": 400, "filled": true, "color": "#FFBF00", "opacity": 1},
 "encoding": {"x": {"field": "i", "type": "quantitative", "scale": {"domain": [0.7861, 92.8417], "nice": false, "zero": false}, "axis": null},
  "y": {"field": "p", "type": "quantitative", "scale": {"domain": [-0.7435, 167.29], "nice": false, "zero": false}, "axis": null},
  "angle": {"field": "n", "type": "quantitative", "scale": {"domain": [1,2,3,4,5,6,7,8,9,10], "range": [31.8,142.4,17.7,135,66,18.5,134.7,20.9,121.8,31.4]}, "legend": null}}}
]
}
]
}
